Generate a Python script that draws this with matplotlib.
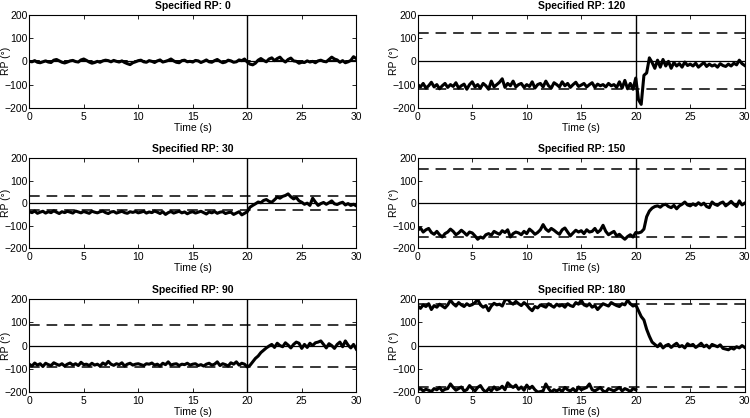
import numpy as np
import matplotlib
matplotlib.use("Agg")
import matplotlib.pyplot as plt

plt.rcParams['font.family'] = ['Liberation Sans', 'DejaVu Sans']

# specified relative phase for each panel
specified = [0, 120, 30, 150, 90, 180]

# measured relative phase, sampled every 0.25 s from 0 to 30 s
rp_0 = [0, -2, 3, -4, -6, -2, 2, -3, -5, 5, 8, 2, -4, -7, -3, 2, 4, -1, -3, 6, 10,
        4, -3, -8, -5, 0, -4, 2, 5, 3, -2, 4, 0, -3, 2, -5, -10, -14, -6, -2, 3,
        5, -2, -4, 3, 0, -5, 2, 6, -3, 0, 4, 10, 2, -4, -6, 3, 5, -2, 0, -3,
        4, 2, -5, 0, 6, -2, -4, 3, 8, 0, -6, -3, 5, 2, -4, -2, 6, 3, 10, -3,
        -12, -15, -8, 5, 12, 4, -2, 10, 15, 3, 12, 18, 5, -3, 8, 14, 2, 0, -8, -4,
        -5, 2, -3, 0, -6, 2, 5, 0, -2, 8, 18, 10, 6, -4, 3, -6, -2, 4, 20, 12]

rp_120 = [-100, -110, -95, -115, -105, -90, -110, -100, -118, -105, -95, -112, -100, -108, -92, -115, -105, -98, -120, -100, -88,
          -110, -100, -115, -95, -105, -120, -85, -110, -100, -90, -75, -112, -95, -105, -85, -110, -100, -95, -112, -100,
          -108, -88, -115, -100, -95, -110, -85, -105, -115, -92, -100, -110, -88, -105, -95, -112, -100, -90, -108, -102,
          -95, -110, -100, -92, -112, -98, -105, -100, -110, -95, -105, -100, -112, -88, -115, -82, -118, -95, -120, -72,
          -165, -185, -60, -50, 15, -5, -30, 5, -25, 8, -20, 0, -30, -5, -20, -10, -25, -3, -18, -12,
          -20, -8, -25, -15, -5, -22, -12, -20, -15, -25, -10, -18, -22, -12, -20, -8, -15, 5, -10, -18]

rp_30 = [-38, -42, -35, -45, -40, -36, -44, -38, -42, -34, -40, -46, -38, -42, -36, -40, -44, -35, -39, -43, -37,
         -41, -45, -36, -40, -43, -38, -35, -42, -46, -39, -37, -44, -40, -36, -42, -45, -38, -41, -37, -43,
         -40, -36, -44, -39, -42, -35, -40, -46, -38, -50, -42, -37, -44, -40, -36, -43, -39, -47, -41, -38,
         -44, -40, -36, -42, -48, -39, -43, -37, -45, -40, -38, -46, -42, -40, -50, -44, -38, -52, -45, -38,
         -18, -10, -3, 5, 2, 12, 16, 8, 4, 15, 27, 22, 30, 34, 41, 28, 19, 25, 10, 4,
         -5, 0, -10, 22, 5, -10, -2, 3, -5, 2, 10, -3, -6, 0, 4, -8, -2, -10, -5, -12]

rp_150 = [-120, -110, -128, -118, -112, -130, -138, -125, -140, -150, -135, -128, -115, -125, -140, -132, -120, -130, -142, -128, -132,
          -145, -160, -150, -155, -140, -135, -142, -125, -132, -138, -122, -130, -118, -150, -135, -128, -132, -140, -125, -135,
          -115, -125, -138, -130, -118, -95, -115, -125, -112, -120, -130, -138, -118, -110, -128, -145, -132, -120, -128, -122,
          -135, -118, -128, -125, -112, -130, -120, -98, -125, -140, -132, -125, -145, -138, -150, -160, -148, -140, -150, -130,
          -132, -128, -115, -60, -35, -22, -15, -12, -18, -8, -5, -15, -20, -10, -25, -12, -5, 5, -8, -12,
          -3, -10, 2, -8, 0, -15, -20, 5, -5, -10, 0, 5, -12, -3, 8, -5, -15, 10, -8, 0]

rp_90 = [-80, -88, -75, -84, -78, -90, -76, -82, -86, -74, -80, -85, -78, -88, -80, -75, -84, -78, -86, -72, -82,
         -80, -86, -76, -84, -80, -88, -75, -82, -68, -80, -85, -78, -82, -74, -88, -80, -76, -84, -80, -78,
         -82, -86, -78, -80, -75, -84, -80, -88, -76, -82, -70, -84, -80, -78, -86, -80, -82, -76, -84, -80,
         -78, -86, -82, -88, -80, -76, -84, -80, -70, -86, -78, -82, -88, -74, -80, -70, -84, -76, -80, -92,
         -85, -70, -55, -45, -30, -20, -10, -2, 5, -8, 10, 0, -5, 12, 2, -10, 5, 15, 10, -12,
         5, -8, 10, 0, 12, 15, 20, 5, -10, 8, 0, -12, 5, 15, -5, 20, 2, -10, 5, -15]

rp_180 = [170, 160, 175, 168, 180, 155, 172, 165, 178, 170, 162, 175, 195, 180, 170, 185, 175, 168, 180, 172, 176,
          185, 198, 175, 165, 172, 150, 170, 182, 175, 178, 170, 195, 200, 185, 178, 190, 180, 172, 185, 175,
          160, 150, 168, 162, 175, 170, 165, 180, 172, 165, 178, 170, 175, 165, 180, 172, 168, 185, 178, 195,
          175, 170, 180, 165, 172, 155, 168, 180, 175, 170, 185, 178, 172, 168, 180, 175, 195, 180, 170, 175,
          150, 125, 110, 70, 40, 15, 5, -5, 8, -10, 0, 5, -8, 2, 10, -5, 0, -10, 8, 0,
          5, -8, 0, 10, -5, 2, -10, 5, 0, -5, 3, -12, -15, -18, -10, -15, -5, -10, 0, -8]

# wrapped part of the 180 trial (0 to 20 s)
rp_180_wrap = [-190, -185, -195, -188, -192, -198, -185, -190, -180, -195, -188, -185, -165, -180, -192, -185, -178, -195, -190, -172, -185,
               -195, -180, -172, -190, -200, -185, -195, -178, -190, -185, -175, -190, -160, -172, -180, -170, -188, -178, -192, -170,
               -185, -175, -190, -200, -198, -195, -165, -185, -200, -190, -195, -188, -198, -180, -190, -195, -185, -198, -178, -190,
               -185, -180, -165, -190, -195, -188, -180, -195, -200, -185, -190, -195, -188, -180, -195, -185, -190, -198, -185, -190]

traces = [rp_0, rp_120, rp_30, rp_150, rp_90, rp_180]

fig = plt.figure(figsize=(7.5, 4.18), dpi=100)

lefts = [0.039, 0.557]
bottoms = [0.742, 0.406, 0.062]
heights = [0.2225, 0.216, 0.2225]

for k in range(6):
    row = k // 2
    col = k % 2
    ax = fig.add_axes([lefts[col], bottoms[row], 0.436, heights[row]])
    vals = traces[k]
    t = np.linspace(0, 30, len(vals))
    sp = specified[k]

    ax.axhline(sp, color='black', lw=1.1, ls=(0, (7, 4.5)), zorder=1)
    ax.axhline(-sp, color='black', lw=1.1, ls=(0, (7, 4.5)), zorder=1)
    ax.axhline(0, color='black', lw=0.9, zorder=1)
    ax.axvline(20, color='black', lw=1.0, zorder=1)

    ax.plot(t, vals, color='black', lw=2.2, zorder=3)
    if sp == 180:
        tw = np.linspace(0, 20, len(rp_180_wrap))
        ax.plot(tw, rp_180_wrap, color='black', lw=2.2, zorder=3)

    ax.set_xlim(0, 30)
    ax.set_ylim(-200, 200)
    ax.set_xticks([0, 5, 10, 15, 20, 25, 30])
    ax.set_yticks([-200, -100, 0, 100, 200])
    ax.set_yticklabels(['\u2212200', '\u2212100', '0', '100', '200'])
    ax.tick_params(direction='in', top=True, right=True, labelsize=7.5, length=3, width=0.6)
    ax.tick_params(axis='x', pad=3)
    ax.tick_params(axis='y', pad=1)
    for s in ax.spines.values():
        s.set_linewidth(0.8)
    ax.set_title('Specified RP: %d' % sp, fontsize=7.5, fontweight='bold', pad=4.5)
    ax.set_xlabel('Time (s)', fontsize=7.5, labelpad=0.5)
    ax.set_ylabel('RP (\u00b0)', fontsize=7.5)
    ax.yaxis.set_label_coords(-0.057, 0.5)

plt.savefig('out.png', dpi=100)
